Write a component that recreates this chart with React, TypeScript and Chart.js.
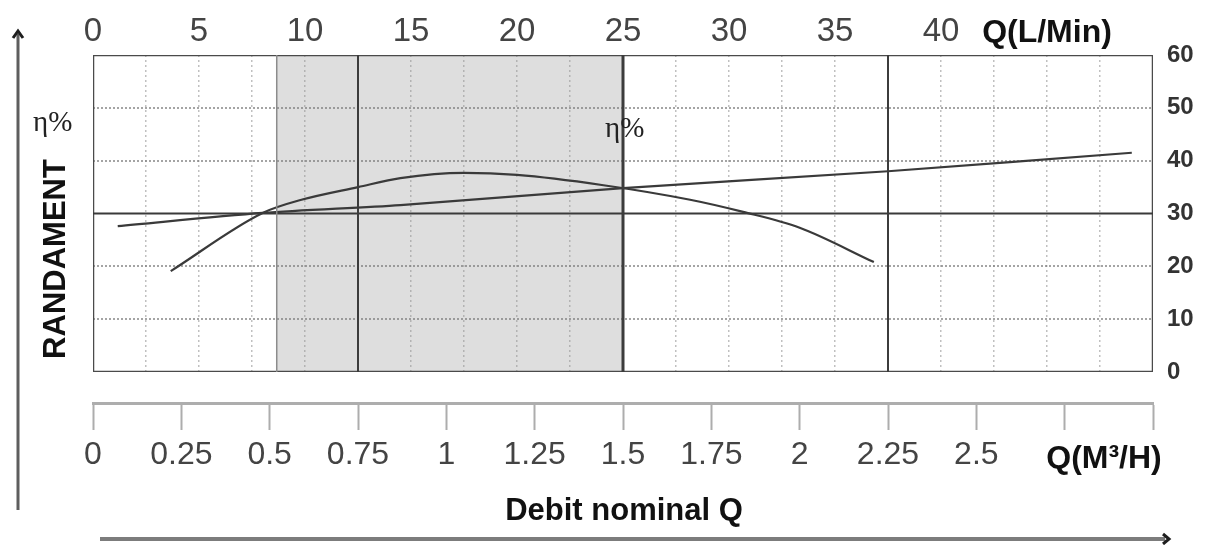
import React, { useEffect, useRef } from 'react';
import { Chart, registerables } from 'chart.js';

Chart.register(...registerables);

// ---------- data ----------
// Efficiency curve (bell shaped), x in m³/h, y in %
const effFlow = [0.22, 0.48, 0.59, 0.75, 0.87, 1.05, 1.2, 1.44, 1.69, 1.84, 2.0, 2.21];
const effValue = [19.1, 30.1, 32.6, 35.0, 36.7, 37.7, 37.3, 35.4, 32.6, 30.3, 27.3, 20.8];

// Near-linear curve
const lineFlow = [0.07, 0.48, 0.87, 1.5, 2.25, 2.94];
const lineValue = [27.6, 30.1, 31.6, 34.8, 38.0, 41.5];

// Shaded nominal zone (m³/h)
const shadeFrom = 0.52;
const shadeTo = 1.5;
// Solid reference lines
const solidVerticals = [0.75, 1.5, 2.25];
const solidVerticalWidths = [2, 3, 2];
const refLevel = 30;
// Frame
const frameX = [0, 0, 3, 3, 0];
const frameY = [0, 60, 60, 0, 0];

// Axes
const bottomTickLabels = ['0', '0.25', '0.5', '0.75', '1', '1.25', '1.5', '1.75', '2', '2.25', '2.5', '', ''];
const topTickLabels = ['0', '', '5', '', '10', '', '15', '', '20', '', '25', '', '30', '', '35', '', '40', '', 'Q(L/Min)', '', ''];
const yTickLabels = ['0', '10', '20', '30', '40', '50', '60'];
const yDottedLevels = [10, 20, 40, 50];

const SANS = '"Liberation Sans", Arial, Helvetica, sans-serif';
const SERIF = '"Liberation Serif", "Times New Roman", serif';

const decorPlugin = {
  id: 'decor',
  afterDraw(chart: any) {
    const ctx = chart.ctx as CanvasRenderingContext2D;
    ctx.save();
    // left vertical arrow
    ctx.strokeStyle = '#5e5e5e';
    ctx.lineWidth = 3;
    ctx.beginPath();
    ctx.moveTo(18, 34);
    ctx.lineTo(18, 510);
    ctx.stroke();
    ctx.strokeStyle = '#1e1e1e';
    ctx.lineWidth = 3;
    ctx.beginPath();
    ctx.moveTo(13, 38);
    ctx.lineTo(18, 31);
    ctx.lineTo(23, 38);
    ctx.stroke();
    // bottom horizontal arrow
    ctx.strokeStyle = '#7c7c7c';
    ctx.lineWidth = 4;
    ctx.beginPath();
    ctx.moveTo(100, 539);
    ctx.lineTo(1165, 539);
    ctx.stroke();
    ctx.strokeStyle = '#1e1e1e';
    ctx.lineWidth = 3;
    ctx.beginPath();
    ctx.moveTo(1163, 534);
    ctx.lineTo(1169, 539);
    ctx.lineTo(1163, 544);
    ctx.stroke();

    // texts
    ctx.fillStyle = '#111';
    ctx.font = `bold 31px ${SANS}`;
    ctx.textAlign = 'center';
    ctx.textBaseline = 'alphabetic';
    ctx.fillText('Debit nominal Q', 624, 520);

    ctx.save();
    ctx.translate(65, 259);
    ctx.rotate(-Math.PI / 2);
    ctx.fillText('RANDAMENT', 0, 0);
    ctx.restore();

    ctx.font = `bold 32px ${SANS}`;
    ctx.fillText('Q(M³/H)', 1104, 468);

    ctx.fillStyle = '#222';
    ctx.font = `29px ${SERIF}`;
    ctx.textAlign = 'left';
    ctx.fillText('η%', 33, 131);
    ctx.fillText('η%', 605, 137);
    ctx.restore();
  },
};

function seg(data: { x: number; y: number }[], color: string, width: number) {
  return {
    data,
    borderColor: color,
    borderWidth: width,
    pointRadius: 0,
    fill: false,
    tension: 0,
  };
}

export default function App() {
  const ref = useRef<HTMLCanvasElement | null>(null);

  useEffect(() => {
    if (!ref.current) return;

    const datasets: any[] = [];
    // shaded zone
    datasets.push({
      data: [
        { x: shadeFrom, y: 60 },
        { x: shadeTo, y: 60 },
      ],
      borderWidth: 0,
      borderColor: 'rgba(0,0,0,0)',
      backgroundColor: '#dedede',
      pointRadius: 0,
      fill: 'origin',
    });
    datasets.push(seg([{ x: shadeFrom, y: 0 }, { x: shadeFrom, y: 60 }], '#8c8c8c', 1.5));
    solidVerticals.forEach((v, i) => {
      datasets.push(seg([{ x: v, y: 0 }, { x: v, y: 60 }], '#3c3c3c', solidVerticalWidths[i]));
    });
    datasets.push(seg([{ x: 0, y: refLevel }, { x: 3, y: refLevel }], '#3a3a3a', 2));
    datasets.push(seg(frameX.map((x, i) => ({ x, y: frameY[i] })), '#4a4a4a', 2.5));
    datasets.push({
      data: effFlow.map((x, i) => ({ x, y: effValue[i] })),
      borderColor: '#3a3a3a',
      borderWidth: 2.2,
      pointRadius: 0,
      fill: false,
      cubicInterpolationMode: 'monotone',
    });
    datasets.push({
      data: lineFlow.map((x, i) => ({ x, y: lineValue[i] })),
      borderColor: '#3a3a3a',
      borderWidth: 2.2,
      pointRadius: 0,
      fill: false,
      tension: 0.3,
    });

    const chart = new Chart(ref.current, {
      type: 'line',
      data: { datasets },
      plugins: [decorPlugin],
      options: {
        animation: false,
        responsive: false,
        devicePixelRatio: 1,
        layout: { padding: { left: 93, right: 0, top: 0, bottom: 72 } },
        plugins: {
          legend: { display: false },
          tooltip: { enabled: false },
          filler: { drawTime: 'beforeDraw' },
        } as any,
        scales: {
          x: {
            type: 'linear',
            position: 'bottom',
            weight: 1,
            min: 0,
            max: 3,
            afterFit: (s: any) => {
              s.height = 70;
            },
            ticks: {
              stepSize: 0.25,
              autoSkip: false,
              maxRotation: 0,
              minRotation: 0,
              padding: 6,
              color: '#444',
              font: { family: SANS, size: 32 },
              callback: (_v: any, i: number) => bottomTickLabels[i] ?? '',
            },
            grid: {
              display: true,
              drawOnChartArea: false,
              drawTicks: true,
              tickLength: 27,
              tickWidth: 2,
              tickColor: '#adadad',
              color: '#adadad',
            },
            border: { display: true, color: '#adadad', width: 3 },
          },
          gap: {
            type: 'linear',
            position: 'bottom',
            weight: 0,
            display: true,
            afterFit: (s: any) => {
              s.height = 31;
            },
            ticks: { display: false },
            grid: { display: false },
            border: { display: false },
          },
          xTop: {
            type: 'linear',
            position: 'top',
            min: 0,
            max: 50,
            afterFit: (s: any) => {
              s.height = 55;
            },
            ticks: {
              stepSize: 2.5,
              autoSkip: false,
              maxRotation: 0,
              minRotation: 0,
              padding: 3,
              color: (c: any) => (c.index === 18 ? '#111' : '#444'),
              font: (c: any) =>
                c.index === 18
                  ? { family: SANS, size: 32, weight: 'bold' }
                  : { family: SANS, size: 33 },
              callback: (_v: any, i: number) => topTickLabels[i] ?? '',
            },
            grid: {
              display: true,
              drawOnChartArea: true,
              drawTicks: false,
              lineWidth: 1.5,
              color: (c: any) => {
                const v = c.tick ? c.tick.value : -1;
                return v <= 0 || v >= 50 ? 'rgba(0,0,0,0)' : 'rgba(150,150,150,0.6)';
              },
            },
            border: { display: false, dash: [2, 3] },
          },
          y: {
            type: 'linear',
            position: 'right',
            min: 0,
            max: 60,
            afterFit: (s: any) => {
              s.width = 54;
            },
            ticks: {
              stepSize: 10,
              padding: 14,
              color: '#333',
              font: { family: SANS, size: 24, weight: 'bold' },
              callback: (_v: any, i: number) => yTickLabels[i] ?? '',
            },
            grid: {
              display: true,
              drawOnChartArea: true,
              drawTicks: false,
              lineWidth: 2,
              color: (c: any) => {
                const v = c.tick ? c.tick.value : -1;
                return yDottedLevels.includes(v) ? 'rgba(125,125,125,0.7)' : 'rgba(0,0,0,0)';
              },
            },
            border: { display: false, dash: [2, 2] },
          },
        },
      } as any,
    });

    return () => chart.destroy();
  }, []);

  return (
    <div style={{ position: 'fixed', left: 0, top: 0, width: 1207, height: 545, background: '#fff' }}>
      <canvas ref={ref} width={1207} height={545} style={{ display: 'block' }} />
    </div>
  );
}
